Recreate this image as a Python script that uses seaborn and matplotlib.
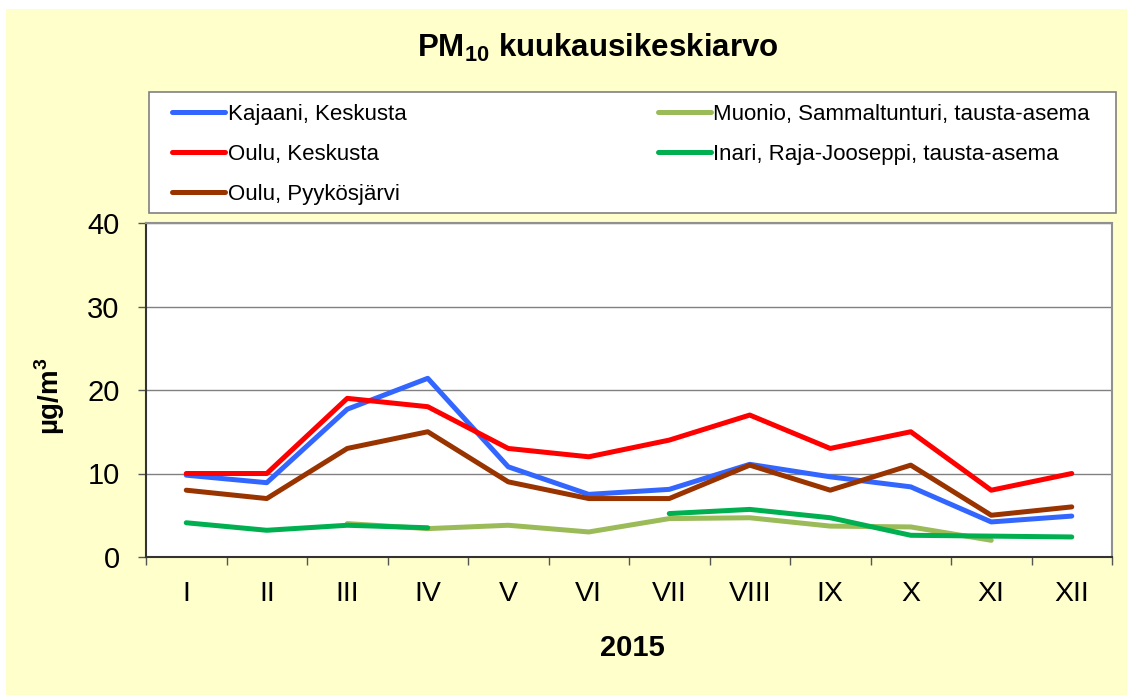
import numpy as np
import pandas as pd
import seaborn as sns
import matplotlib.pyplot as plt
from matplotlib.patches import Rectangle

months = ['I', 'II', 'III', 'IV', 'V', 'VI', 'VII', 'VIII', 'IX', 'X', 'XI', 'XII']

kajaani_keskusta = [9.8, 8.9, 17.7, 21.4, 10.8, 7.5, 8.1, 11.1, 9.6, 8.4, 4.2, 4.9]
oulu_keskusta = [10, 10, 19, 18, 13, 12, 14, 17, 13, 15, 8, 10]
oulu_pyykosjarvi = [8, 7, 13, 15, 9, 7, 7, 11, 8, 11, 5, 6]
muonio = [np.nan, np.nan, 4.0, 3.4, 3.8, 3.0, 4.6, 4.7, 3.7, 3.6, 2.0, np.nan]
inari = [4.1, 3.2, 3.8, 3.5, np.nan, np.nan, 5.2, 5.7, 4.7, 2.6, 2.5, 2.4]

series = [
    ('Kajaani, Keskusta', kajaani_keskusta, '#3366FF', 4),
    ('Oulu, Keskusta', oulu_keskusta, '#FF0000', 5),
    ('Oulu, Pyykösjärvi', oulu_pyykosjarvi, '#993300', 6),
    ('Muonio, Sammaltunturi, tausta-asema', muonio, '#9BBB59', 2),
    ('Inari, Raja-Jooseppi, tausta-asema', inari, '#00B050', 3),
]

sns.set_style('white')
plt.rcParams['font.family'] = ['Liberation Sans', 'DejaVu Sans']
plt.rcParams['text.color'] = 'black'
plt.rcParams['xtick.color'] = 'black'
plt.rcParams['ytick.color'] = 'black'
plt.rcParams['axes.labelcolor'] = 'black'
plt.rcParams['mathtext.fontset'] = 'custom'
plt.rcParams['mathtext.bf'] = 'Liberation Sans:bold'
plt.rcParams['mathtext.rm'] = 'Liberation Sans'

W, H = 1127, 695
fig = plt.figure(figsize=(W / 100, H / 100), dpi=100, facecolor='white')
fig.patches.append(Rectangle((6 / W, 0), 1, 1 - 9 / H, transform=fig.transFigure,
                             facecolor='#FFFFCC', edgecolor='none', zorder=-10))
# legend box
fig.patches.append(Rectangle((149 / W, 1 - 213 / H), (1116 - 149) / W, (213 - 92) / H,
                             transform=fig.transFigure, facecolor='white',
                             edgecolor='#808080', linewidth=1.2, zorder=-5))

ax = fig.add_axes([146 / W, 1 - 557 / H, (1112 - 146) / W, (557 - 223) / H])
ax.set_facecolor('white')

x = np.arange(len(months))
handles = []
for name, vals, color, z in series:
    df = pd.DataFrame({'x': x, 'y': vals})
    # split into contiguous runs so gaps stay empty
    df['run'] = df['y'].isna().cumsum()
    df = df.dropna()
    first = None
    for _, seg in df.groupby('run'):
        sns.lineplot(data=seg, x='x', y='y', ax=ax, color=color, linewidth=3.6,
                     zorder=z, legend=False)
        if first is None:
            first = ax.lines[-1]
    handles.append(first)

ax.set_xlim(-0.5, 11.5)
ax.set_ylim(0, 40)
ax.set_yticks([0, 10, 20, 30, 40])
ax.set_xticks(np.arange(-0.5, 12, 1))
ax.set_xticklabels([])
ax.set_xticks(x, minor=True)
ax.set_xticklabels(months, minor=True, fontsize=20.5)
ax.tick_params(axis='x', which='minor', length=0, pad=17)
ax.tick_params(axis='x', which='major', direction='out', length=6, width=1, color='#555555', bottom=True)
ax.tick_params(axis='y', direction='out', length=6, width=1, color='#555555', labelsize=21, pad=13, left=True)
ax.yaxis.grid(True, color='#808080', linewidth=1)
ax.set_axisbelow(True)
for side, sp in ax.spines.items():
    sp.set_visible(True)
    sp.set_color('#909090' if side in ('top', 'right') else '#333333')
    sp.set_linewidth(1.5)

ax.set_xlabel('')
ax.set_ylabel('')
fig.text(632 / W, 1 - 648 / H, '2015', fontsize=21, fontweight='bold', ha='center', va='center')
fig.text(50 / W, 1 - 396 / H, r'µg/m$^\mathbf{3}$', fontsize=20, fontweight='bold',
         ha='center', va='center', rotation=90)

fig.text(598 / W, 1 - 48 / H, r'PM$_{\mathbf{10}}$ kuukausikeskiarvo', fontsize=22.5,
         fontweight='bold', ha='center', va='center')

leg = fig.legend(handles=handles, labels=[s[0] for s in series], ncol=2,
                 loc='center', bbox_to_anchor=(172 / W, 1 - 215 / H, (1090 - 172) / W, (213 - 92) / H),
                 mode='expand', fontsize=16, frameon=False,
                 handlelength=2.4, handletextpad=0.1, labelspacing=0.85, borderaxespad=0,
                 borderpad=0, columnspacing=2)

fig.savefig('out.png', dpi=100, facecolor=fig.get_facecolor())
